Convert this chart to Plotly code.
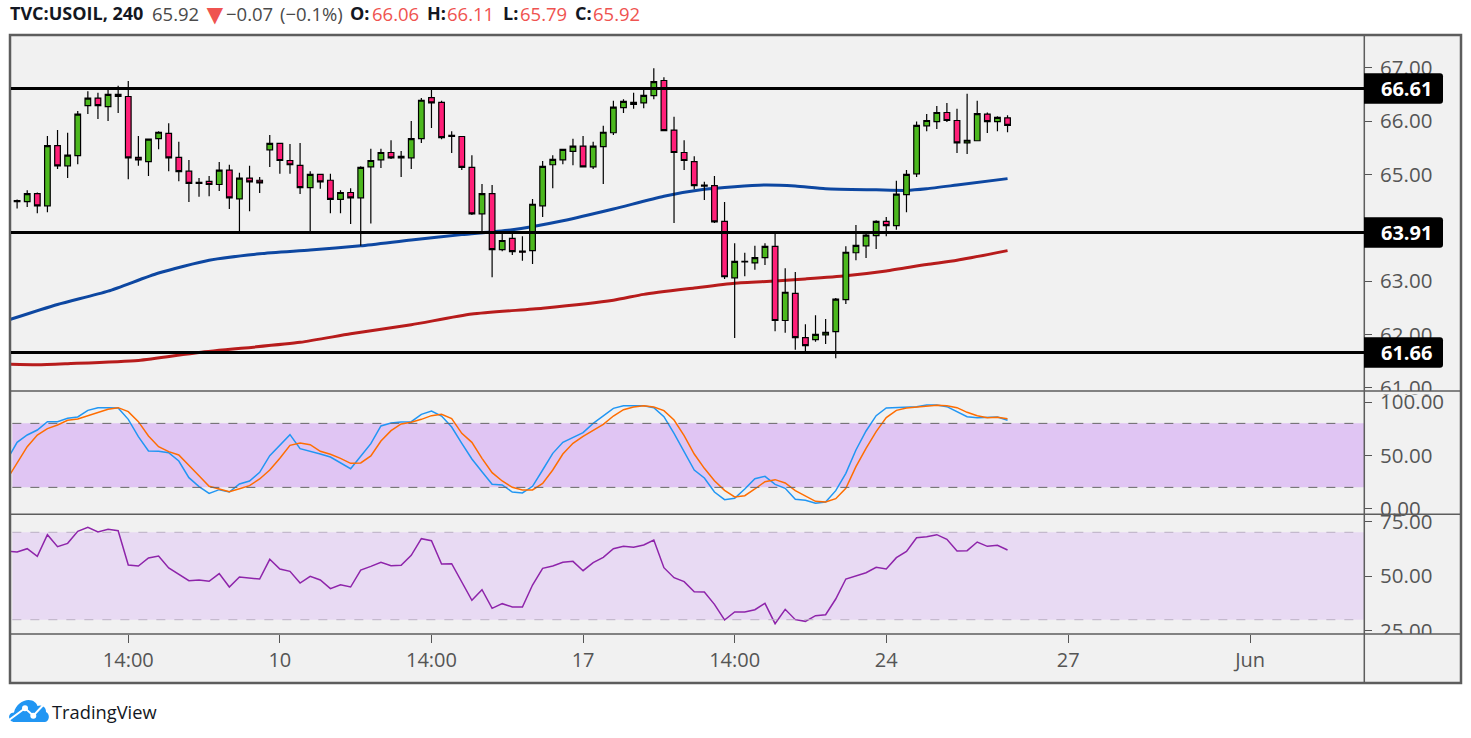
import plotly.graph_objects as go

# candles (4h bars, left to right)
bar_open = [64.49, 64.49, 64.64, 64.41, 65.54, 65.16, 65.35, 66.29, 66.43, 66.27, 66.50, 66.46, 65.32, 65.24, 65.67, 65.77, 65.32, 65.06, 64.85, 64.87,
            64.81, 65.08, 64.54, 64.93, 64.89, 65.46, 65.58, 65.26, 65.17, 64.75, 65.00, 64.89, 64.53, 64.66, 64.56, 65.14, 65.27, 65.41, 65.34, 65.31,
            65.67, 66.44, 66.35, 65.73, 65.71, 65.13, 64.26, 64.64, 63.59, 63.80, 63.56, 63.57, 64.41, 65.18, 65.27, 65.43, 65.53, 65.14, 65.52, 65.78,
            66.25, 66.31, 66.34, 66.475, 66.76, 65.83, 65.41, 65.24, 64.80, 64.79, 64.12, 63.06, 63.37, 63.34, 63.44, 63.65, 62.26, 62.77, 61.94, 61.90,
            61.99, 62.05, 62.65, 63.53, 63.66, 63.85, 64.12, 64.04, 64.62, 65.01, 65.91, 65.99, 66.16, 66.01, 65.59, 65.63, 66.13, 65.99, 66.06]
bar_high = [64.53, 64.70, 64.66, 65.72, 65.83, 65.78, 66.19, 66.56, 66.53, 66.61, 66.66, 66.75, 65.72, 65.67, 65.81, 65.96, 65.61, 65.27, 64.93, 64.97,
            65.23, 65.18, 65.03, 65.16, 64.95, 65.74, 65.58, 65.57, 65.59, 65.06, 65.00, 65.01, 64.70, 64.74, 65.15, 65.48, 65.48, 65.64, 65.44, 66.00,
            66.43, 66.61, 66.38, 65.81, 65.71, 65.36, 64.82, 64.80, 63.88, 63.92, 63.84, 64.54, 65.25, 65.36, 65.47, 65.67, 65.72, 65.61, 65.91, 66.38,
            66.41, 66.53, 66.58, 66.99, 66.82, 66.08, 65.64, 65.34, 64.86, 64.97, 64.48, 63.71, 63.53, 63.66, 63.71, 63.91, 63.24, 63.17, 62.19, 62.36,
            62.29, 62.68, 63.65, 64.05, 63.88, 64.14, 64.20, 64.88, 65.08, 65.99, 66.13, 66.28, 66.34, 66.23, 66.51, 66.38, 66.16, 66.09, 66.11]
bar_low = [64.36, 64.39, 64.27, 64.29, 65.10, 64.93, 65.19, 66.13, 66.04, 66.00, 66.15, 64.91, 65.16, 64.97, 65.47, 65.06, 64.87, 64.48, 64.58, 64.59,
           64.69, 64.35, 63.88, 64.31, 64.65, 65.14, 65.01, 65.01, 64.63, 63.94, 64.73, 64.27, 64.27, 64.07, 63.66, 64.08, 65.12, 65.29, 64.95, 65.10,
           65.59, 65.87, 65.66, 65.40, 65.08, 64.24, 63.93, 63.07, 63.56, 63.49, 63.38, 63.32, 64.20, 64.74, 65.19, 65.17, 65.14, 65.10, 64.82, 65.74,
           66.15, 66.23, 66.24, 66.41, 65.82, 64.09, 65.08, 64.72, 64.52, 64.09, 63.04, 61.93, 63.09, 63.21, 63.30, 62.06, 62.03, 61.71, 61.68, 61.86,
           61.82, 61.55, 62.57, 63.39, 63.43, 63.60, 63.84, 63.96, 64.29, 64.95, 65.81, 65.85, 65.98, 65.40, 65.38, 65.63, 65.775, 65.81, 65.79]
bar_close = [64.51, 64.64, 64.41, 65.54, 65.16, 65.36, 66.13, 66.43, 66.29, 66.50, 66.46, 65.31, 65.27, 65.66, 65.79, 65.31, 65.05, 64.83, 64.83, 64.81,
             65.08, 64.56, 64.93, 64.86, 64.84, 65.58, 65.26, 65.18, 64.75, 65.00, 64.86, 64.53, 64.66, 64.56, 65.13, 65.26, 65.41, 65.31, 65.31, 65.67,
             66.39, 66.34, 65.69, 65.71, 65.13, 64.26, 64.64, 63.59, 63.76, 63.55, 63.54, 64.44, 65.15, 65.28, 65.47, 65.53, 65.14, 65.53, 65.79, 66.26,
             66.37, 66.35, 66.48, 66.74, 65.82, 65.41, 65.26, 64.79, 64.78, 64.11, 63.08, 63.37, 63.36, 63.44, 63.65, 62.26, 62.79, 61.94, 61.79, 62.00,
             62.04, 62.66, 63.54, 63.67, 63.86, 64.12, 64.04, 64.63, 65.00, 65.92, 66.01, 66.16, 66.01, 65.59, 65.64, 66.14, 65.99, 66.07, 65.92]

# moving averages, sampled where they bend
ma_blue_bars = [-1, 4, 9, 14, 19, 24, 29, 34, 39, 44, 49, 54, 59, 64, 68, 71, 74, 77, 80, 85, 88, 90, 93, 98]
ma_blue = [62.26, 62.56, 62.81, 63.15, 63.39, 63.51, 63.58, 63.66, 63.77, 63.87, 63.96, 64.13, 64.35, 64.59, 64.72, 64.77, 64.80, 64.78, 64.73, 64.71, 64.70, 64.73, 64.80, 64.92]
ma_red_bars = [-1, 2, 5, 12, 18, 28, 33, 39, 45, 52, 59, 62, 67, 71, 75, 78, 82, 86, 90, 93, 98]
ma_red = [61.44, 61.43, 61.45, 61.51, 61.66, 61.85, 62.01, 62.18, 62.38, 62.49, 62.64, 62.75, 62.87, 62.96, 63.00, 63.04, 63.10, 63.19, 63.31, 63.39, 63.57]

# indicators start one bar left of the first candle
ind_bars = list(range(-1, 99))
stoch_k = [45.66, 62.22, 69.10, 73.78, 81.60, 81.60, 84.72, 85.97, 92.22, 94.72, 94.72, 94.41, 83.78, 67.53, 54.10, 53.78, 52.53, 44.72, 29.10, 20.66,
           14.41, 17.85, 15.66, 23.16, 25.97, 34.10, 49.72, 59.72, 69.41, 56.28, 54.10, 51.28, 48.47, 43.16, 37.53, 49.10, 60.97, 77.53, 80.35, 81.28,
           81.60, 88.47, 91.60, 86.91, 76.60, 61.28, 46.60, 34.72, 22.85, 22.22, 15.66, 14.72, 20.97, 36.28, 51.91, 62.22, 66.60, 71.28, 80.03, 87.22,
           94.10, 96.60, 96.28, 96.60, 94.72, 86.28, 70.66, 53.47, 36.28, 28.78, 15.66, 8.47, 9.72, 18.47, 28.16, 30.35, 22.85, 19.10, 8.78, 7.85,
           5.03, 6.28, 16.91, 33.16, 55.03, 72.85, 87.22, 94.41, 94.72, 94.72, 95.66, 97.22, 97.22, 95.66, 90.97, 86.28, 85.35, 85.35, 85.97, 82.85]
stoch_d = [27.53, 43.47, 58.16, 69.10, 75.03, 78.47, 82.85, 84.10, 87.22, 90.35, 93.16, 94.72, 90.97, 81.60, 68.16, 58.16, 53.47, 50.35, 40.97, 30.97,
           20.97, 18.47, 15.97, 18.78, 21.60, 27.85, 36.28, 47.22, 59.41, 61.60, 60.03, 53.78, 50.97, 47.22, 42.53, 42.85, 49.41, 63.47, 73.16, 79.41,
           80.97, 83.78, 87.22, 88.47, 84.41, 70.66, 62.22, 47.22, 33.78, 25.97, 20.03, 17.53, 17.53, 23.78, 36.28, 51.28, 61.28, 67.85, 73.47, 79.10,
           86.91, 92.85, 95.35, 96.60, 95.35, 91.91, 83.16, 68.47, 51.28, 37.85, 26.28, 17.22, 10.97, 12.22, 18.47, 25.35, 27.22, 24.10, 16.91, 11.91,
           6.91, 6.28, 9.41, 19.10, 39.41, 56.60, 72.22, 85.35, 92.22, 94.41, 95.03, 95.97, 96.91, 96.60, 94.72, 90.35, 87.22, 85.35, 85.66, 84.41]
rsi = [61.29, 60.98, 62.51, 59.00, 68.92, 63.42, 64.95, 70.44, 72.27, 70.14, 71.35, 70.75, 55.03, 54.57, 58.24, 59.15, 53.66, 50.76, 47.86, 48.17,
       47.56, 51.07, 44.96, 49.54, 49.08, 48.62, 57.63, 53.20, 52.13, 46.79, 49.85, 48.17, 44.20, 46.03, 44.96, 52.75, 54.42, 56.25, 54.73, 54.88,
       59.46, 67.08, 66.17, 55.49, 55.64, 47.41, 38.86, 43.74, 35.20, 37.34, 35.81, 35.81, 45.88, 53.51, 54.57, 56.25, 56.71, 52.44, 56.10, 58.54,
       62.51, 63.58, 63.12, 64.18, 66.47, 53.81, 49.24, 47.41, 42.83, 42.68, 37.03, 29.86, 33.52, 33.52, 34.59, 37.49, 28.18, 34.74, 30.02, 29.25,
       31.85, 32.30, 39.47, 48.62, 50.15, 51.52, 53.97, 53.20, 58.39, 61.29, 67.54, 68.00, 68.92, 66.78, 61.44, 61.59, 65.56, 63.58, 64.03, 61.90]

levels = [66.61, 63.91, 61.66]
level_labels = ["66.61", "63.91", "61.66"]
price_ticks = [61, 62, 63, 65, 66, 67]
stoch_ticks = [0, 50, 100]
rsi_ticks = [25, 50, 75]
stoch_band = [20, 80]
rsi_band = [30, 70]
time_tick_bars = [11, 26, 41, 56, 71, 86, 104, 122]
time_tick_text = ["14:00", "10", "14:00", "17", "14:00", "24", "27", "Jun"]

# header pieces: text, left edge in px, colour, font size
header = [
    ("<b>TVC:USOIL, 240</b>", 9, "#131722", 18),
    ("65.92", 151, "#4a4a4a", 18.5),
    ("\u25bc", 200, "#ef5350", 28),
    ("\u22120.07", 225, "#4a4a4a", 18.5),
    ("(\u22120.1%)", 279, "#4a4a4a", 18.5),
    ("<b>O:</b>", 349, "#131722", 18),
    ("66.06", 371, "#ef5350", 18.5),
    ("<b>H:</b>", 426, "#131722", 18),
    ("66.11", 446, "#ef5350", 18.5),
    ("<b>L:</b>", 502, "#131722", 18),
    ("65.79", 519, "#ef5350", 18.5),
    ("<b>C:</b>", 574, "#131722", 18),
    ("65.92", 592, "#ef5350", 18.5),
]

W, H = 1471, 738
PANE_BG = "#f1f1f1"
FRAME = "#5d5d5d"
TICK_TEXT = "#555555"
FONT = "Open Sans"


def fx(px):
    return px / W


def fy(py):
    return 1 - py / H


fig = go.Figure()

# averages sit on the lower y axis so the candles draw over them
fig.add_trace(go.Scatter(x=ma_blue_bars, y=ma_blue, mode="lines", yaxis="y",
                         line=dict(color="#0d47a1", width=3, shape="spline", smoothing=0.6)))
fig.add_trace(go.Scatter(x=ma_red_bars, y=ma_red, mode="lines", yaxis="y",
                         line=dict(color="#b71c1c", width=3, shape="spline", smoothing=0.6)))
fig.add_trace(go.Candlestick(
    x=list(range(len(bar_open))), open=bar_open, high=bar_high, low=bar_low, close=bar_close,
    yaxis="y2", whiskerwidth=0,
    increasing=dict(fillcolor="#4cb81e", line=dict(color="#000000", width=1.2)),
    decreasing=dict(fillcolor="#ff1f78", line=dict(color="#000000", width=1.2)),
))
fig.add_trace(go.Scatter(x=ind_bars, y=stoch_k, mode="lines", yaxis="y3", line=dict(color="#2196f3", width=1.5)))
fig.add_trace(go.Scatter(x=ind_bars, y=stoch_d, mode="lines", yaxis="y3", line=dict(color="#ff6d00", width=1.5)))
fig.add_trace(go.Scatter(x=ind_bars, y=rsi, mode="lines", yaxis="y4", line=dict(color="#8e24aa", width=1.5)))

y_common = dict(side="right", anchor="x", showgrid=False, zeroline=False, showline=False,
                ticks="outside", ticklen=7, tickwidth=1, tickcolor=TICK_TEXT,
                tickfont=dict(family=FONT, size=20.5, color=TICK_TEXT),
                tickformat=".2f", ticklabelstandoff=4)
price_range = [60.938, 67.613]

shapes = [
    dict(type="rect", xref="paper", yref="paper", x0=fx(10), x1=fx(1461), y0=fy(683), y1=fy(35),
         fillcolor=PANE_BG, line=dict(width=0), layer="below"),
]
# indicator bands
for yref, band, fill in [("y3", stoch_band, "#e0c5f3"), ("y4", rsi_band, "#e8daf3")]:
    shapes.append(dict(type="rect", xref="x domain", yref=yref, x0=0.001, x1=1, y0=band[0], y1=band[1],
                       fillcolor=fill, line=dict(width=0), layer="below"))
for yref, band, colour in [("y3", stoch_band, "#666666"), ("y4", rsi_band, "#bbb0c4")]:
    for val in band:
        shapes.append(dict(type="line", xref="x domain", yref=yref, x0=0.001, x1=0.997, y0=val, y1=val,
                           line=dict(color=colour, width=1, dash="dash"), layer="above"))
# clip the price and rsi labels that run into the pane below
shapes.append(dict(type="rect", xref="paper", yref="paper", x0=fx(1373), x1=fx(1459), y0=fy(394.5), y1=fy(391),
                   fillcolor=PANE_BG, line=dict(width=0), layer="above"))
shapes.append(dict(type="rect", xref="paper", yref="paper", x0=fx(1373), x1=fx(1459), y0=fy(639), y1=fy(634),
                   fillcolor=PANE_BG, line=dict(width=0), layer="above"))
# pane dividers and the outer frame
for py in [391, 514.3, 634]:
    shapes.append(dict(type="line", xref="paper", yref="paper", x0=fx(10), x1=fx(1461), y0=fy(py), y1=fy(py),
                       line=dict(color=FRAME, width=1.5), layer="above"))
shapes.append(dict(type="line", xref="paper", yref="paper", x0=fx(1364.3), x1=fx(1364.3), y0=fy(683), y1=fy(35),
                   line=dict(color=FRAME, width=1.5), layer="above"))
shapes.append(dict(type="rect", xref="paper", yref="paper", x0=fx(10), x1=fx(1461), y0=fy(683), y1=fy(35),
                   line=dict(color=FRAME, width=2.5), layer="above"))

annotations = []
for val, label in zip(levels, level_labels):
    shapes.append(dict(type="line", xref="x domain", yref="y", x0=0, x1=1, y0=val, y1=val,
                       line=dict(color="#000000", width=3), layer="above"))
    shapes.append(dict(type="path", xref="paper", yref="y", xsizemode="pixel", ysizemode="pixel",
                       xanchor=fx(1364), yanchor=val,
                       path="M0,-15.3 L76,-15.3 Q79,-15.3 79,-12.3 L79,12.3 Q79,15.3 76,15.3 L0,15.3 Z",
                       fillcolor="#000000", line=dict(width=0), layer="above"))
    annotations.append(dict(text="<b>" + label + "</b>", xref="paper", yref="y", x=fx(1379), y=val,
                            xanchor="left", yanchor="middle", showarrow=False,
                            font=dict(family=FONT, size=20, color="#ffffff")))

for text, left, colour, size in header:
    annotations.append(dict(text=text, xref="paper", yref="paper", x=fx(left), y=fy(13),
                            xanchor="left", yanchor="middle", showarrow=False, borderpad=0,
                            font=dict(family=FONT, size=size, color=colour)))

annotations.append(dict(text="TradingView", xref="paper", yref="paper", x=fx(49.5), y=fy(711),
                        xanchor="left", yanchor="middle", showarrow=False,
                        font=dict(family=FONT, size=18.3, color="#131722")))

# logo, drawn around one anchor point
logo_anchor = dict(xref="paper", yref="paper", xsizemode="pixel", ysizemode="pixel",
                   xanchor=fx(28.5), yanchor=fy(711), layer="above")
shapes.append(dict(type="path", fillcolor="#2196f3", line=dict(width=0),
                   path="M-14,-11 C-20,-11 -22,-2 -14.5,-1.5 C-13,6 -6,11 0,11 C5,11 8,8 9,5 "
                        "C14,7 18,3 17.5,-1 C22,-3 21,-11 16,-11 Z", **logo_anchor))
shapes.append(dict(type="path", line=dict(color="#ffffff", width=2),
                   path="M-19.5,-9 L-3.5,2.7 L4.8,-4.7 L14.8,6", **logo_anchor))
for cx, cy in [(-3.5, 2.7), (4.8, -4.7)]:
    shapes.append(dict(type="circle", fillcolor="#ffffff", line=dict(width=0),
                       x0=cx - 3, x1=cx + 3, y0=cy - 3, y1=cy + 3, **logo_anchor))

fig.update_layout(
    width=W, height=H, autosize=False, showlegend=False,
    margin=dict(l=0, r=0, t=0, b=0, autoexpand=False), paper_bgcolor="#ffffff", plot_bgcolor=PANE_BG,
    boxgap=0.2,
    xaxis=dict(domain=[fx(11), fx(1364)], range=[-0.6035, 133.27], anchor="y4",
               rangeslider=dict(visible=False), showgrid=False, zeroline=False,
               tickmode="array", tickvals=time_tick_bars, ticktext=time_tick_text,
               ticks="outside", ticklen=8, tickwidth=1, tickcolor=TICK_TEXT,
               tickfont=dict(family=FONT, size=20, color=TICK_TEXT)),
    yaxis=dict(domain=[fy(391), fy(35)], range=price_range, tickmode="array", tickvals=price_ticks, **y_common),
    yaxis2=dict(overlaying="y", range=price_range, visible=False, anchor="x", side="right"),
    yaxis3=dict(domain=[fy(514.3), fy(391)], range=[-5.25, 110.34], tickmode="array", tickvals=stoch_ticks, **y_common),
    yaxis4=dict(domain=[fy(634), fy(514.3)], range=[23.46, 78.24], tickmode="array", tickvals=rsi_ticks, **y_common),
    shapes=shapes,
    annotations=annotations,
)

fig.write_html("out.html", config=dict(displayModeBar=False),
               post_script="document.body.style.margin='0';document.body.style.overflow='hidden';")
